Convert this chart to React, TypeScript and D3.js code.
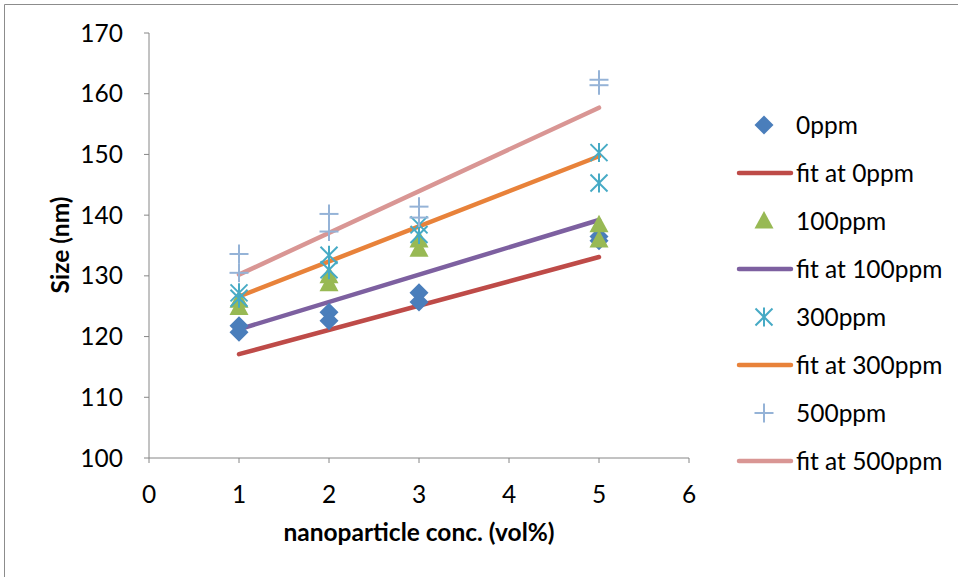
import React from "react";
import * as d3 from "d3";

// x positions of the measured points (two repeats per concentration)
const concX = [1, 1, 2, 2, 3, 3, 5, 5];

const size0ppm = [121.8, 120.7, 124.0, 122.6, 127.2, 125.7, 136.5, 135.8];
const size100ppm = [126.0, 124.8, 130.0, 128.7, 135.9, 134.4, 138.4, 135.9];
const size300ppm = [127.2, 126.3, 133.4, 131.0, 138.4, 136.8, 150.3, 145.3];
const size500ppm = [133.6, 130.5, 140.2, 137.3, 141.4, 139.6, 162.3, 161.4];

// fit lines, value at x=1 and x=5
const fitX = [1, 5];
const fit0ppm = [117.1, 133.1];
const fit100ppm = [121.2, 139.2];
const fit300ppm = [126.6, 149.7];
const fit500ppm = [130.2, 157.7];

const xTicks = [0, 1, 2, 3, 4, 5, 6];
const yTicks = [100, 110, 120, 130, 140, 150, 160, 170];

const legendLabels = [
  "0ppm",
  "fit at 0ppm",
  "100ppm",
  "fit at 100ppm",
  "300ppm",
  "fit at 300ppm",
  "500ppm",
  "fit at 500ppm",
];

const font = "Lato, 'Open Sans', sans-serif";
const fs = 24.5;

function Marker({ kind, x, y }: { kind: string; x: number; y: number }) {
  if (kind === "diamond") {
    return (
      <path
        d={`M${x},${y - 9.5}L${x + 9.5},${y}L${x},${y + 9.5}L${x - 9.5},${y}Z`}
        fill="#4A7EBB"
      />
    );
  }
  if (kind === "triangle") {
    return (
      <path
        d={`M${x},${y - 10}L${x + 9.5},${y + 7.5}L${x - 9.5},${y + 7.5}Z`}
        fill="#98B954"
      />
    );
  }
  if (kind === "star") {
    return (
      <g stroke="#46AAC5" strokeWidth={2}>
        <line x1={x} y1={y - 9.5} x2={x} y2={y + 9.5} />
        <line x1={x - 8.5} y1={y - 8.5} x2={x + 8.5} y2={y + 8.5} />
        <line x1={x - 8.5} y1={y + 8.5} x2={x + 8.5} y2={y - 8.5} />
      </g>
    );
  }
  return (
    <g stroke="#95B3D7" strokeWidth={2}>
      <line x1={x - 9.5} y1={y} x2={x + 9.5} y2={y} />
      <line x1={x} y1={y - 9.5} x2={x} y2={y + 9.5} />
    </g>
  );
}

export default function App() {
  const x = d3.scaleLinear().domain([0, 6]).range([149, 689]);
  const y = d3.scaleLinear().domain([100, 170]).range([458, 33]);

  const pointSeries = [
    { vals: size0ppm, kind: "diamond" },
    { vals: size100ppm, kind: "triangle" },
    { vals: size300ppm, kind: "star" },
    { vals: size500ppm, kind: "plus" },
  ];
  const fitSeries = [
    { vals: fit0ppm, color: "#BE4B48" },
    { vals: fit100ppm, color: "#7D60A0" },
    { vals: fit300ppm, color: "#E8823A" },
    { vals: fit500ppm, color: "#D99694" },
  ];

  const lineGen = d3
    .line<number>()
    .x((d, i) => x(fitX[i]))
    .y((d) => y(d));

  const axisColor = "#868686";

  return (
    <svg
      width={958}
      height={577}
      style={{ position: "absolute", left: 0, top: 0, background: "#fff" }}
    >
      {/* chart border */}
      <line x1={4.5} y1={4.5} x2={958} y2={4.5} stroke="#8c8c8c" />
      <line x1={4.5} y1={4.5} x2={4.5} y2={577} stroke="#8c8c8c" />

      {/* y axis */}
      <line x1={x(0)} y1={y(170)} x2={x(0)} y2={y(100)} stroke={axisColor} />
      {yTicks.map((t) => (
        <g key={t}>
          <line x1={x(0) - 5} x2={x(0)} y1={y(t)} y2={y(t)} stroke={axisColor} />
          <text
            x={123}
            y={y(t)}
            dy="0.35em"
            textAnchor="end"
            fontFamily={font}
            fontSize={fs}
            fill="#000"
          >
            {t}
          </text>
        </g>
      ))}

      {/* x axis */}
      <line x1={x(0)} y1={y(100)} x2={x(6)} y2={y(100)} stroke={axisColor} />
      {xTicks.map((t) => (
        <g key={t}>
          <line x1={x(t)} x2={x(t)} y1={y(100)} y2={y(100) + 5} stroke={axisColor} />
          <text
            x={x(t)}
            y={494}
            dy="0.35em"
            textAnchor="middle"
            fontFamily={font}
            fontSize={fs}
            fill="#000"
          >
            {t}
          </text>
        </g>
      ))}

      {/* axis titles */}
      <text
        x={419}
        y={532}
        dy="0.35em"
        textAnchor="middle"
        fontFamily={font}
        fontWeight="bold"
        fontSize={fs}
      >
        nanoparticle conc. (vol%)
      </text>
      <text
        transform={`translate(60,245) rotate(-90)`}
        dy="0.35em"
        textAnchor="middle"
        fontFamily={font}
        fontWeight="bold"
        fontSize={fs}
      >
        Size (nm)
      </text>

      {/* fit lines */}
      {fitSeries.map((s, i) => (
        <path
          key={i}
          d={lineGen(s.vals) || ""}
          fill="none"
          stroke={s.color}
          strokeWidth={4.5}
          strokeLinecap="round"
        />
      ))}

      {/* points, drawn after lines */}
      {pointSeries.map((s, si) =>
        s.vals.map((v, i) => (
          <Marker key={`${si}-${i}`} kind={s.kind} x={x(concX[i])} y={y(v)} />
        ))
      )}

      {/* legend */}
      {legendLabels.map((lab, i) => {
        const ly = 125 + i * 48;
        const isFit = i % 2 === 1;
        const k = Math.floor(i / 2);
        return (
          <g key={lab}>
            {isFit ? (
              <line
                x1={739}
                x2={791}
                y1={ly}
                y2={ly}
                stroke={fitSeries[k].color}
                strokeWidth={4.5}
                strokeLinecap="round"
              />
            ) : (
              <Marker kind={pointSeries[k].kind} x={764} y={ly} />
            )}
            <text
              x={796}
              y={ly}
              dy="0.35em"
              fontFamily={font}
              fontSize={fs}
              fill="#000"
            >
              {lab}
            </text>
          </g>
        );
      })}
    </svg>
  );
}
